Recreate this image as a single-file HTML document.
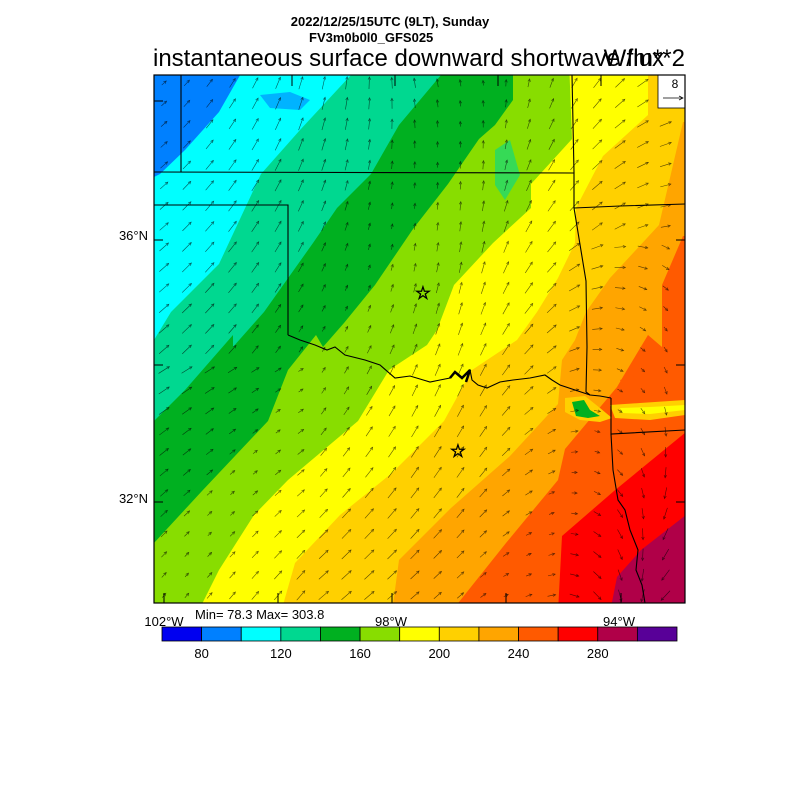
<!DOCTYPE html>
<html><head><meta charset="utf-8"><style>
body{margin:0;background:#fff;width:800px;height:800px;overflow:hidden}
svg{position:absolute;left:0;top:0}
text{font-family:"Liberation Sans",sans-serif}
</style></head><body>
<svg id="s" width="800" height="800" xmlns="http://www.w3.org/2000/svg">
<defs><clipPath id="c"><rect x="154" y="75" width="531" height="528"/></clipPath></defs>
<g clip-path="url(#c)" id="map">
<rect x="140" y="60" width="560" height="560" fill="#580098"/>
<polygon fill="#b00048" points="700,60 700,590 686,598 679,612 679,620 140,620 140,60"/>
<polygon fill="#ff0000" points="700,60 700,515 686,515 641,550 617,577 610,612 610,620 140,620 140,60"/>
<polygon fill="#ff5a00" points="700,60 700,432 686,432 614,491 562,536 558,612 558,620 140,620 140,60"/>
<polygon fill="#ffa500" points="700,60 700,236 683,236 662,285 662,347 648,335 627,370 617,387 565,449 558,480 506,543 451,612 451,620 140,620 140,60"/>
<polygon fill="#ff5a00" points="620,380 650,372 700,370 700,395 660,398 640,392 625,392"/>
<polygon fill="#ffd000" points="610,405 640,403 685,400 685,415 650,420 615,418"/>
<polygon fill="#ffff00" points="620,408 650,407 685,405 685,410 650,414 622,413"/>
<polygon fill="#ffd000" points="700,60 700,122 683,122 659,225 610,278 586,312 575,340 562,360 558,404 510,456 451,508 399,560 392,612 392,620 140,620 140,60"/>
<polygon fill="#ffd000" points="565,398 585,396 600,408 612,418 600,422 580,420 565,412"/>
<polygon fill="#00b020" points="572,402 584,400 590,410 600,416 588,418 576,416"/>
<polygon fill="#ffff00" points="648,60 648,115 603,156 576,208 575,243 558,278 537,312 517,340 472,370 444,421 392,473 340,515 295,563 281,612 281,620 140,620 140,60"/>
<polygon fill="#88dd00" points="569,60 572,139 531,184 531,208 493,243 454,285 437,330 427,345 389,370 358,421 288,480 254,515 219,570 198,612 198,620 140,620 140,60"/>
<polygon fill="#00b020" points="513,60 513,100 495,125 479,139 448,184 413,229 375,285 344,323 323,347 316,335 288,370 268,421 202,491 154,543 140,543 140,60"/>
<polygon fill="#00d890" points="441,60 441,75 420,100 399,125 371,174 337,208 313,243 264,312 233,347 233,335 185,390 154,421 140,421 140,60"/>
<polygon fill="#00ffff" points="351,60 351,75 300,130 261,174 219,264 171,312 154,340 140,340 140,60"/>
<polygon fill="#0080ff" points="243,60 243,70 219,112 185,150 160,174 154,177 140,177 140,60"/>
<polygon fill="#0080ff" opacity="0.6" points="260,95 290,92 310,100 300,110 270,108"/>
<polygon fill="#00d890" opacity="0.6" points="495,150 510,140 520,175 505,200 495,185"/>
<g id="arrows" stroke="#000" stroke-width="0.6" fill="none" opacity="0.65"></g>
<g stroke="#000" stroke-width="1.1" fill="none">
<polyline points="181,75 181,172"/>
<polyline points="154,172 574,173"/>
<polyline points="154,205 288,205 288,335"/>
<polyline points="288,335 300,340 315,345 327,350 335,347 345,355 365,360 380,365 395,378 410,376 430,382 440,380 450,378 455,372 462,378 470,370 472,380 478,385 487,388 500,382 513,380 530,378 545,375 552,380 560,385 575,390 590,395 600,396 611,398"/>
<polyline points="572,75 574,172 574,208 586,281 587,347 586,392 590,395"/>
<polyline points="574,208 620,206 685,204"/>
<polyline points="611,398 611,434 685,430"/>
<polyline points="611,434 613,470 618,500 625,510 630,530 638,550 636,570 642,585 645,603"/>
<polyline stroke-width="2.5" points="450,378 455,372 462,378 470,370 466,382"/>
</g>
<g stroke="#000" stroke-width="1" fill="none">
<line x1="154" y1="101" x2="163" y2="101"/><line x1="154" y1="240" x2="163" y2="240"/><line x1="154" y1="365" x2="163" y2="365"/><line x1="154" y1="502" x2="163" y2="502"/>
<line x1="685" y1="101" x2="676" y2="101"/><line x1="685" y1="240" x2="676" y2="240"/><line x1="685" y1="365" x2="676" y2="365"/><line x1="685" y1="502" x2="676" y2="502"/>
<line x1="164" y1="603" x2="164" y2="593"/><line x1="278" y1="603" x2="278" y2="593"/><line x1="392" y1="603" x2="392" y2="593"/><line x1="506" y1="603" x2="506" y2="593"/><line x1="621" y1="603" x2="621" y2="593"/>
<line x1="292" y1="75" x2="292" y2="86"/><line x1="395" y1="75" x2="395" y2="86"/><line x1="498" y1="75" x2="498" y2="86"/><line x1="601" y1="75" x2="601" y2="86"/>
</g>
<text x="423" y="299" font-size="18" text-anchor="middle" fill="none" stroke="#000" stroke-width="0.8">☆</text>
<text x="458" y="457" font-size="18" text-anchor="middle" fill="none" stroke="#000" stroke-width="0.8">☆</text>
<rect x="658" y="75" width="27" height="33" fill="#fff" stroke="#000" stroke-width="0.8"/>
<text x="675" y="88" font-size="12" text-anchor="middle">8</text>
<line x1="663" y1="98" x2="683" y2="98" stroke="#000" stroke-width="0.7"/><polyline points="679,96 683,98 679,100" stroke="#000" stroke-width="0.7" fill="none"/>
</g>
<rect x="154" y="75" width="531" height="528" fill="none" stroke="#000" stroke-width="1.2"/>
<text x="390" y="26" font-size="13" font-weight="bold" text-anchor="middle">2022/12/25/15UTC (9LT), Sunday</text>
<text x="309" y="42" font-size="13" font-weight="bold">FV3m0b0l0_GFS025</text>
<text x="153" y="66" font-size="24">instantaneous surface downward shortwave flux</text>
<text x="685" y="66" font-size="24" text-anchor="end">W/m**2</text>
<text x="148" y="240" font-size="13" text-anchor="end">36°N</text>
<text x="148" y="503" font-size="13" text-anchor="end">32°N</text>
<text x="164" y="626" font-size="13" text-anchor="middle">102°W</text>
<text x="391" y="626" font-size="13" text-anchor="middle">98°W</text>
<text x="619" y="626" font-size="13" text-anchor="middle">94°W</text>
<text x="195" y="619" font-size="13">Min= 78.3 Max= 303.8</text>
<g id="cb"></g>
</svg>
<script>
var cols=["#0000f0","#0080ff","#00ffff","#00d890","#00b020","#88dd00","#ffff00","#ffd000","#ffa500","#ff5a00","#ff0000","#b00048","#580098"];
var ns="http://www.w3.org/2000/svg",cb=document.getElementById("cb"),w=(677-162)/13;
function el(t,a,p){var e=document.createElementNS(ns,t);for(var k in a)e.setAttribute(k,a[k]);p.appendChild(e);return e;}
cols.forEach(function(c,i){el("rect",{x:162+i*w,y:627,width:w,height:14,fill:c,stroke:"#000","stroke-width":0.8},cb);});
[80,120,160,200,240,280].forEach(function(v){var i=(v-60)/20;var t=el("text",{x:162+i*w,y:658,"font-size":13,"text-anchor":"middle"},cb);t.textContent=v;});
var g=document.getElementById("arrows");
for(var y=83;y<603;y+=20.5){for(var x=164;x<685;x+=22.8){
var u=(x-154)/531,v=(y-75)/528;
var ang,len;
ang=40+60*(1-v)*(u<0.5?u*2:1)+ (u>0.6? -80*(u-0.6)/0.4 : 0) + (u>0.75&&v>0.3? -120*(u-0.75)/0.25*v:0);
if(u<0.3&&v>0.55) ang=10+40*v;
len=5+8*Math.abs(Math.sin(u*5+v*3));
var a=ang*Math.PI/180,dx=Math.cos(a)*len,dy=-Math.sin(a)*len;
var x0=x-dx/2,y0=y-dy/2,x1=x+dx/2,y1=y+dy/2;
el("line",{x1:x0,y1:y0,x2:x1,y2:y1},g);
var h=3,b1=a+Math.PI-0.45,b2=a+Math.PI+0.45;
el("polyline",{points:(x1+Math.cos(b1)*h)+","+(y1-Math.sin(b1)*h)+" "+x1+","+y1+" "+(x1+Math.cos(b2)*h)+","+(y1-Math.sin(b2)*h)},g);
}}
</script>
</body></html>
